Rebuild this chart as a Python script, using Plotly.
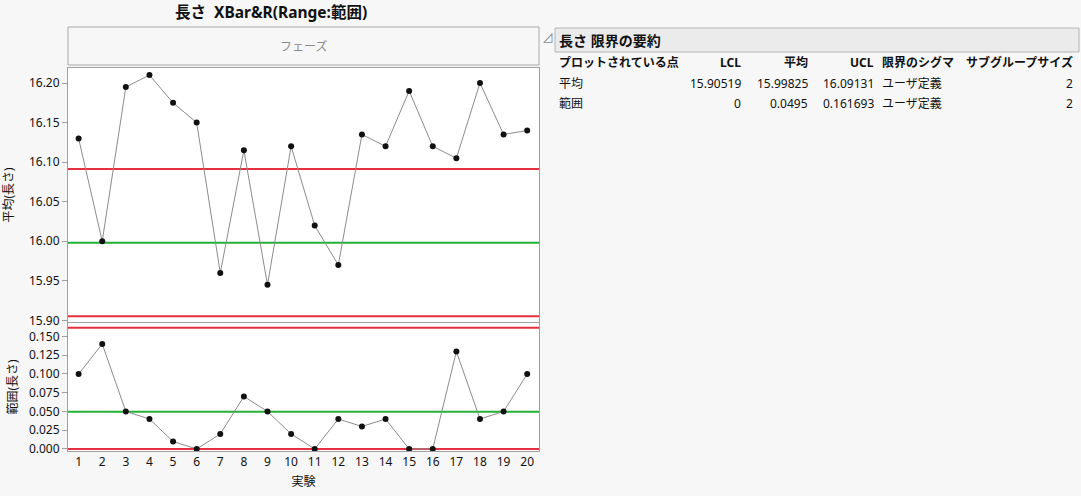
import plotly.graph_objects as go

# subgroup data (実験 1..20)
runs = list(range(1, 21))
means = [16.13, 16.00, 16.195, 16.21, 16.175, 16.15, 15.96, 16.115, 15.945, 16.12,
         16.02, 15.97, 16.135, 16.12, 16.19, 16.12, 16.105, 16.20, 16.135, 16.14]
ranges = [0.10, 0.14, 0.05, 0.04, 0.01, 0.00, 0.02, 0.07, 0.05, 0.02,
          0.00, 0.04, 0.03, 0.04, 0.00, 0.00, 0.13, 0.04, 0.05, 0.10]

# limits summary table
table_cols = ["プロットされている点", "LCL", "平均", "UCL", "限界のシグマ", "サブグループサイズ"]
row_names = ["平均", "範囲"]
lcl_vals = [15.90519, 0]
center_vals = [15.99825, 0.0495]
ucl_vals = [16.09131, 0.161693]
sigma_vals = ["ユーザ定義", "ユーザ定義"]
subgroup_sizes = [2, 2]

FONT = "Noto Sans, Noto Sans CJK JP, sans-serif"
RED = "#e6303f"
GREEN = "#22b136"
AXIS = "#a0a0a0"

W, H = 1081, 496
def px(x):
    return x / W
def py(y):
    return 1 - y / H

fig = go.Figure()

fig.add_trace(go.Scatter(x=runs, y=means, mode="lines+markers", xaxis="x", yaxis="y",
                         line=dict(color="#8c8c8c", width=1),
                         marker=dict(color="#111111", size=6), showlegend=False))
fig.add_trace(go.Scatter(x=runs, y=ranges, mode="lines+markers", xaxis="x2", yaxis="y2",
                         line=dict(color="#8c8c8c", width=1),
                         marker=dict(color="#111111", size=6), showlegend=False))

shapes = []
# control limit lines
for i, ax in enumerate(["y", "y2"]):
    for val, col in [(lcl_vals[i], RED), (center_vals[i], GREEN), (ucl_vals[i], RED)]:
        shapes.append(dict(type="line", xref="x domain" if ax == "y" else "x2 domain", yref=ax,
                           x0=0, x1=1, y0=val, y1=val, line=dict(color=col, width=2), layer="below"))

# phase box
shapes.append(dict(type="rect", xref="paper", yref="paper", x0=px(68), x1=px(539), y0=py(65), y1=py(27),
                   fillcolor="#f7f7f7", line=dict(color="#a8a8a8", width=1)))
# summary header box
shapes.append(dict(type="rect", xref="paper", yref="paper", x0=px(555), x1=px(1079), y0=py(52), y1=py(28),
                   fillcolor="#ebebeb", line=dict(color="#b4b4b4", width=1)))

def label(text, x, y, size=12, color="#111111", anchor="center"):
    return dict(text=text, x=px(x), y=py(y), xref="paper", yref="paper", xanchor=anchor,
                yanchor="middle", showarrow=False, font=dict(size=size, color=color))

ann = []
ann.append(label("<b>長さ  XBar&R(Range:範囲)</b>", 271, 12, size=15.5))
ann.append(label("フェーズ", 303, 46, color="#8a8a8a"))
ann.append(label("⊿", 548, 38, color="#8a8a8a"))
ann.append(label("<b>長さ 限界の要約</b>", 557, 40, size=14, anchor="left"))

# table columns: (anchor x, xanchor)
col_pos = [(557, "left"), (743, "right"), (810, "right"), (876, "right"), (880, "left"), (1075, "right")]
for (cx, anc), name in zip(col_pos, table_cols):
    ann.append(label("<b>" + name + "</b>", cx, 62, anchor=anc))
for r in range(2):
    cells = [row_names[r], str(lcl_vals[r]), str(center_vals[r]), str(ucl_vals[r]),
             sigma_vals[r], str(subgroup_sizes[r])]
    for (cx, anc), t in zip(col_pos, cells):
        ann.append(label(t, cx, 84 + 19.5 * r, anchor=anc))

xdom = [px(68), px(539)]
fig.update_layout(
    width=W, height=H, autosize=False,
    margin=dict(l=0, r=0, t=0, b=0, autoexpand=False),
    paper_bgcolor="#f7f7f7", plot_bgcolor="white",
    font=dict(family=FONT, size=12, color="#111111"),
    shapes=shapes, annotations=ann,
    xaxis=dict(domain=xdom, anchor="y", range=[0.55, 20.5], showticklabels=False, ticks="",
               showgrid=False, zeroline=False, showline=True, linecolor=AXIS, mirror=True,
               automargin=False),
    yaxis=dict(domain=[py(322), py(68)], anchor="x", range=[15.898, 16.219],
               tickvals=[15.90, 15.95, 16.00, 16.05, 16.10, 16.15, 16.20], tickformat=".2f",
               ticks="outside", ticklen=5, tickcolor=AXIS, showgrid=False, zeroline=False,
               showline=True, linecolor=AXIS, mirror=True, automargin=False,
               title=dict(text="平均(長さ)", standoff=12, font=dict(size=12))),
    xaxis2=dict(domain=xdom, anchor="y2", range=[0.55, 20.5], tickvals=runs,
                ticks="", showgrid=False, zeroline=False, showline=True, linecolor=AXIS, mirror=True,
                automargin=False,
                title=dict(text="実験", standoff=8, font=dict(size=12))),
    yaxis2=dict(domain=[py(451), py(323)], anchor="x2", range=[-0.0027, 0.168],
                tickvals=[0, 0.025, 0.05, 0.075, 0.1, 0.125, 0.15], tickformat=".3f",
                ticks="outside", ticklen=5, tickcolor=AXIS, showgrid=False, zeroline=False,
                showline=True, linecolor=AXIS, mirror=True, automargin=False,
                title=dict(text="範囲(長さ)", standoff=8, font=dict(size=12))),
)

page_fix = ("document.documentElement.style.margin='0';document.documentElement.style.overflow='hidden';"
            "document.body.style.margin='0';document.body.style.overflow='hidden';")
fig.write_html("out.html", config={"displayModeBar": False}, post_script=page_fix)
